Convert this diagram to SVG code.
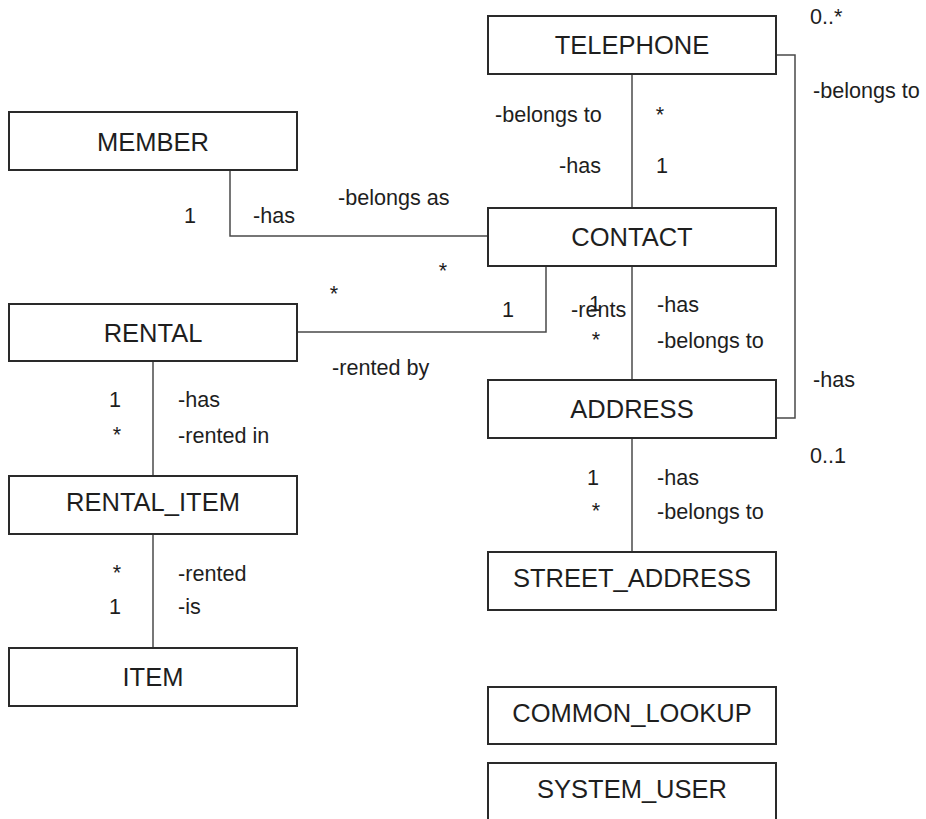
<svg xmlns="http://www.w3.org/2000/svg" width="926" height="819" viewBox="0 0 926 819">
<style>
.box{fill:#fff;stroke:#2a2a2a;stroke-width:2}
.name{font-family:"Liberation Sans",Arial,sans-serif;font-size:25.5px;fill:#1e1e1e;text-anchor:middle}
.lbl{font-family:"Liberation Sans",Arial,sans-serif;font-size:21.6px;fill:#1e1e1e}
.mid{text-anchor:middle}
.conn{fill:none;stroke:#4a4a4a;stroke-width:1.5}
</style>
<rect width="926" height="819" fill="#fff"/>
<g id="connectors">
<path class="conn" d="M230,170 V236 H488"/>
<path class="conn" d="M297,332 H546 V266"/>
<path class="conn" d="M632,74 V208"/>
<path class="conn" d="M632,266 V380"/>
<path class="conn" d="M776,55 H795 V418 H776"/>
<path class="conn" d="M153,361 V476"/>
<path class="conn" d="M153,534 V648"/>
<path class="conn" d="M632,438 V552"/>
</g>
<g id="labels">
<text class="lbl" x="338" y="205">-belongs as</text>
<text class="lbl" x="184" y="223">1</text>
<text class="lbl" x="253" y="223">-has</text>
<text class="lbl mid" x="443" y="278">*</text>
<text class="lbl mid" x="334" y="301">*</text>
<text class="lbl" x="332" y="375">-rented by</text>
<text class="lbl" x="109" y="407">1</text>
<text class="lbl" x="178" y="407">-has</text>
<text class="lbl mid" x="117" y="442">*</text>
<text class="lbl" x="178" y="443">-rented in</text>
<text class="lbl mid" x="117" y="580">*</text>
<text class="lbl" x="178" y="581">-rented</text>
<text class="lbl" x="109" y="614">1</text>
<text class="lbl" x="178" y="614">-is</text>
<text class="lbl" x="810" y="24">0..*</text>
<text class="lbl" x="813" y="98">-belongs to</text>
<text class="lbl" x="495" y="122">-belongs to</text>
<text class="lbl mid" x="660" y="122">*</text>
<text class="lbl" x="559" y="173">-has</text>
<text class="lbl" x="656" y="173">1</text>
<text class="lbl" x="502" y="317">1</text>
<text class="lbl" x="571" y="317">-rents</text>
<text class="lbl" x="589" y="311">1</text>
<text class="lbl mid" x="596" y="347">*</text>
<text class="lbl" x="657" y="312">-has</text>
<text class="lbl" x="657" y="348">-belongs to</text>
<text class="lbl" x="813" y="387">-has</text>
<text class="lbl" x="810" y="463">0..1</text>
<text class="lbl" x="587" y="485">1</text>
<text class="lbl" x="657" y="485">-has</text>
<text class="lbl mid" x="596" y="518">*</text>
<text class="lbl" x="657" y="519">-belongs to</text>
</g>
<g id="MEMBER"><rect class="box" x="9" y="112" width="288" height="58"/><text class="name" x="153" y="151">MEMBER</text></g>
<g id="RENTAL"><rect class="box" x="9" y="304" width="288" height="57"/><text class="name" x="153" y="342">RENTAL</text></g>
<g id="RENTAL_ITEM"><rect class="box" x="9" y="476" width="288" height="58"/><text class="name" x="153" y="511">RENTAL_ITEM</text></g>
<g id="ITEM"><rect class="box" x="9" y="648" width="288" height="58"/><text class="name" x="153" y="686">ITEM</text></g>
<g id="TELEPHONE"><rect class="box" x="488" y="16" width="288" height="58"/><text class="name" x="632" y="54">TELEPHONE</text></g>
<g id="CONTACT"><rect class="box" x="488" y="208" width="288" height="58"/><text class="name" x="632" y="246">CONTACT</text></g>
<g id="ADDRESS"><rect class="box" x="488" y="380" width="288" height="58"/><text class="name" x="632" y="418">ADDRESS</text></g>
<g id="STREET_ADDRESS"><rect class="box" x="488" y="552" width="288" height="58"/><text class="name" x="632" y="587">STREET_ADDRESS</text></g>
<g id="COMMON_LOOKUP"><rect class="box" x="488" y="687" width="288" height="57"/><text class="name" x="632" y="722">COMMON_LOOKUP</text></g>
<g id="SYSTEM_USER"><rect class="box" x="488" y="763" width="288" height="58"/><text class="name" x="632" y="798">SYSTEM_USER</text></g>
</svg>
